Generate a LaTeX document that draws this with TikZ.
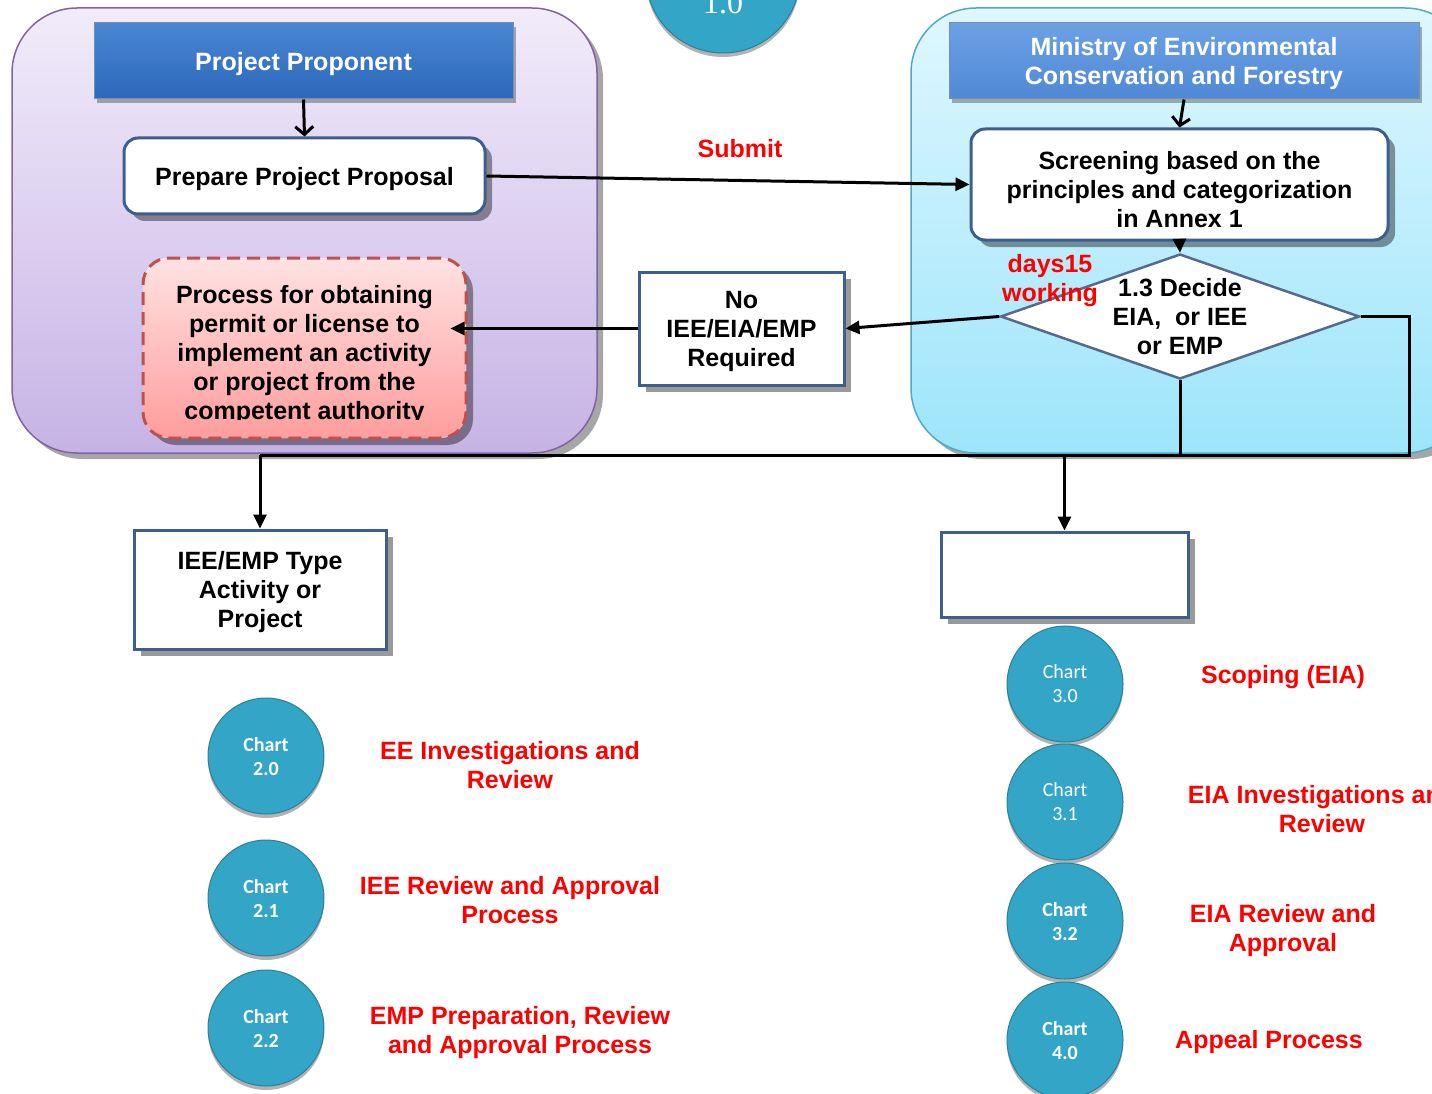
\documentclass[tikz,border=0pt]{standalone}
\usepackage{fontspec}
\setmainfont{Liberation Sans}
\newfontfamily\chartfont{Carlito}
\newfontfamily\numfont{Liberation Serif}
\usetikzlibrary{shapes.geometric,shadows,arrows.meta}

\definecolor{purpleline}{HTML}{8064A2}
\definecolor{purpletop}{HTML}{F1ECFA}
\definecolor{purplebot}{HTML}{C6B3E5}
\definecolor{cyanline}{HTML}{4BACC6}
\definecolor{cyantop}{HTML}{DFF7FE}
\definecolor{cyanbot}{HTML}{9DE5FB}
\definecolor{ppbluetop}{HTML}{4A87D2}
\definecolor{ppbluebot}{HTML}{2C67BA}
\definecolor{moebluetop}{HTML}{6CA1E4}
\definecolor{moebluebot}{HTML}{4F88D5}
\definecolor{boxline}{HTML}{3C5F8F}
\definecolor{diamline}{HTML}{56698F}
\definecolor{procline}{HTML}{C0504D}
\definecolor{proctop}{HTML}{FFE2E2}
\definecolor{procbot}{HTML}{FF9D9D}
\definecolor{balltone}{HTML}{33A6C7}
\definecolor{ballrim}{HTML}{2B7F99}

\tikzset{
  bigfont/.style={font=\bfseries\fontsize{25}{29}\selectfont, text depth=0pt},
  panel/.style={rounded corners=65pt, line width=1.5pt,
    drop shadow={shadow xshift=6pt, shadow yshift=-6pt, fill=black, opacity=0.35}},
  header/.style={bigfont, text=white, align=center, draw=boxline!70, line width=1pt,
    inner sep=0pt, drop shadow={shadow xshift=3pt, shadow yshift=-4pt, fill=black, opacity=0.3}},
  roundbox/.style={bigfont, align=center, draw=boxline, fill=white, line width=3pt,
    rounded corners=14pt, inner sep=0pt,
    drop shadow={shadow xshift=7pt, shadow yshift=-7pt, fill=black, opacity=0.4}},
  plainbox/.style={bigfont, align=center, draw=boxline, fill=white, line width=3pt,
    inner sep=0pt, drop shadow={shadow xshift=7pt, shadow yshift=-7pt, fill=black, opacity=0.4}},
  decision/.style={diamond, draw=diamline, fill=white, line width=2.5pt, inner sep=0pt},
  boxtext/.style={bigfont, align=center, inner sep=0pt},
  redlabel/.style={bigfont, text=red, align=center, inner sep=0pt},
  chartball/.style={circle, fill=balltone, draw=ballrim, line width=1pt, text=white,
    align=center, minimum size=116pt, inner sep=0pt, text depth=0pt,
    drop shadow={shadow xshift=0pt, shadow yshift=-4pt, fill=black, opacity=0.3}},
  conn/.style={line width=3pt, draw=black},
  arr/.style={conn, -{Triangle[length=14pt,width=13pt]}},
  barb/.style={conn, -{Straight Barb[length=8pt,width=18pt]}}
}

\begin{document}
\begin{tikzpicture}[x=1pt,y=-1pt]
\useasboundingbox (0,0) rectangle (1432,1094);

% the two swimlane panels
\path[panel, draw=purpleline, top color=purpletop, bottom color=purplebot] (12,8) rectangle (597,453);
\path[panel, draw=cyanline, top color=cyantop, bottom color=cyanbot] (911,8) rectangle (1470,453);

% chart 1.0 at the top
\node[chartball, minimum size=154pt] (ch10) at (723,-24) {};
\node[anchor=base, text=white, font=\numfont\fontsize{32}{36}\selectfont] (ch10txt) at (723,14) {1.0};

% project proponent lane
\node[header, top color=ppbluetop, bottom color=ppbluebot, minimum width=419pt, minimum height=76pt]
  (pp) at (303.5,61) {Project Proponent};
\node[roundbox, minimum width=361pt, minimum height=76pt] (prep) at (304.5,176) {Prepare Project Proposal};
\node[roundbox, draw=procline, dashed, dash pattern=on 13pt off 7pt, top color=proctop, bottom color=procbot,
  rounded corners=26pt, minimum width=323pt, minimum height=180pt] (proc) at (304.5,348) {};
\begin{scope}
  \clip (143,258) rectangle (466,419);
  \node[boxtext] (proctext) at (304.5,352) {Process for obtaining\\permit or license to\\implement an activity\\or project from the\\competent authority};
\end{scope}

% ministry lane
\node[header, top color=moebluetop, bottom color=moebluebot, minimum width=470pt, minimum height=76pt]
  (moe) at (1184,61) {Ministry of Environmental\\Conservation and Forestry};
\node[roundbox, minimum width=417pt, minimum height=111pt] (screen) at (1179.5,184.5) {};
\node[boxtext] (screentext) at (1179.5,189) {Screening based on the\\principles and categorization\\in Annex 1};
\node[decision, minimum width=359pt, minimum height=125pt] (decide) at (1180,316.5) {};
\node[boxtext] (decidetxt) at (1180,316) {1.3 Decide\\EIA,\ \ or IEE\\or EMP};
\node[redlabel] (days) at (1050,278) {days15\\working};

% middle and lower boxes
\node[plainbox, minimum width=205pt, minimum height=113pt] (nobox) at (741.5,328.5) {No\\IEE/EIA/EMP\\Required};
\node[plainbox, minimum width=252pt, minimum height=119pt] (ieebox) at (260,589.5) {IEE/EMP Type\\Activity or\\Project};
\node[plainbox, minimum width=247pt, minimum height=85pt] (eiabox) at (1064.5,574.5) {};
\node[redlabel] (submit) at (740,148) {Submit};

% connectors
\draw[barb] (pp.south) -- (prep.north);
\draw[barb] (moe.south) -- (screen.north);
\draw[arr] (prep.east) -- (screen.west);
\draw[arr] (screen.south) -- (decide.north);
\draw[arr] (decide.west) -- (nobox.east);
\draw[arr, shorten >=-17pt] (nobox.west) -- (nobox.west -| proc.east);
\coordinate (busR) at (1409,455);
\coordinate (busL) at (ieebox.north |- busR);
\draw[conn] (decide.east) -| (busR) -- (busL);
\draw[conn] (decide.south) -- (decide.south |- busR);
\draw[arr] (busL) -- (ieebox.north);
\draw[arr] (eiabox.north |- busR) -- (eiabox.north);

% chart buttons
\foreach \y/\n/\t in {756/ch20/2.0, 898/ch21/2.1, 1028/ch22/2.2}
  \node[chartball, font=\chartfont\bfseries\fontsize{20}{24}\selectfont] (\n) at (266,\y) {Chart\\\t};
\foreach \y/\n/\t/\w in {684/ch30/3.0/\mdseries, 802/ch31/3.1/\mdseries, 921/ch32/3.2/\bfseries, 1040/ch40/4.0/\bfseries}
  \node[chartball, font=\chartfont\w\fontsize{20}{24}\selectfont] (\n) at (1065,\y) {Chart\\\t};

% chart captions
\node[redlabel] (eeinv) at (510,765) {EE Investigations and\\Review};
\node[redlabel] (ieerev) at (510,900) {IEE Review and Approval\\Process};
\node[redlabel] (empprep) at (520,1030) {EMP Preparation, Review\\and Approval Process};
\node[redlabel] (scoping) at (1283,674) {Scoping (EIA)};
\node[redlabel] (eiainv) at (1322,809) {EIA Investigations and\\Review};
\node[redlabel] (eiarev) at (1283,928) {EIA Review and\\Approval};
\node[redlabel] (appeal) at (1269,1039) {Appeal Process};
\end{tikzpicture}
\end{document}
